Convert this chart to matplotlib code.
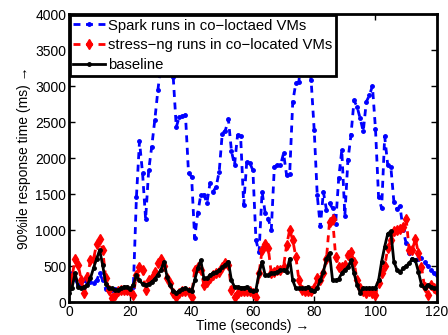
import numpy as np
import matplotlib.pyplot as plt

plt.rcParams['font.family'] = ['Liberation Sans', 'DejaVu Sans']

# time axis, one sample per second
t = np.arange(0, 121)

spark = [350, 400, 320, 230, 280, 300, 280, 280, 270, 300,
         400, 300, 180, 150, 160, 180, 150, 160, 150, 140,
         140, 210, 1460, 2230, 1790, 1150, 1830, 2160, 2530, 2940,
         3300, 3700, 3800, 3400, 3130, 2430, 2575, 2580, 2600, 1790,
         1740, 885, 1235, 1490, 1490, 1375, 1650, 1530, 1600, 1810,
         2340, 2380, 2540, 2100, 1900, 2320, 2300, 1350, 1950, 1930,
         1830, 860, 690, 1530, 1240, 1160, 1000, 1880, 1900, 1900,
         2065, 1760, 1780, 2780, 3040, 3060, 3500, 3700, 3400, 3080,
         2390, 1480, 1050, 1530, 1280, 1370, 1300, 1090, 1720, 2110,
         1200, 1970, 2320, 2800, 2710, 2550, 2370, 2780, 2870, 3000,
         2400, 1460, 1300, 2300, 1900, 1880, 1390, 1290, 1330, 1000,
         815, 680, 600, 590, 600, 605, 550, 500, 440, 400, 380]

stress = [250, 350, 600, 520, 300, 130, 350, 580, 600, 800,
          870, 720, 330, 170, 50, 100, 150, 170, 170, 160,
          150, 100, 375, 490, 450, 170, 300, 330, 420, 540,
          600, 500, 330, 260, 130, 75, 120, 150, 150, 140,
          75, 445, 490, 450, 240, 280, 330, 375, 400, 420,
          490, 540, 520, 170, 75, 120, 150, 150, 150, 150,
          120, 75, 400, 720, 800, 750, 400, 420, 445, 450,
          490, 790, 1000, 860, 630, 310, 170, 150, 150, 150,
          200, 330, 300, 400, 600, 1115, 1160, 630, 490, 480,
          520, 650, 700, 560, 300, 190, 150, 130, 150, 130,
          100, 260, 400, 500, 745, 860, 980, 1000, 1020, 1045,
          1160, 720, 720, 880, 680, 490, 210, 100, 240, 200, 150]

baseline = [120, 200, 400, 210, 200, 210, 240, 330, 470, 600,
            720, 510, 250, 190, 190, 170, 170, 190, 210, 210,
            180, 240, 375, 300, 250, 240, 250, 280, 320, 380,
            450, 560, 350, 240, 150, 130, 150, 180, 190, 170,
            150, 300, 470, 580, 330, 330, 375, 400, 410, 440,
            480, 520, 560, 300, 210, 210, 200, 200, 210, 170,
            150, 170, 400, 560, 375, 370, 400, 400, 420, 440,
            450, 420, 600, 300, 190, 190, 190, 190, 210, 170,
            150, 200, 300, 420, 600, 680, 300, 300, 320, 400,
            450, 480, 580, 400, 240, 130, 190, 190, 190, 190,
            200, 300, 560, 770, 950, 980, 560, 450, 410, 470,
            500, 540, 600, 580, 420, 240, 190, 240, 210, 190, 190]

fig = plt.figure(figsize=(4.48, 3.35), dpi=100)
ax = fig.add_axes([0.154, 0.0985, 0.821, 0.8595])

ax.plot(t, spark, color='b', linestyle=(0, (2.5, 2)), linewidth=2,
        marker='.', markersize=5, label='Spark runs in co\u2212loctaed VMs')
ax.plot(t, stress, color='r', linestyle=(0, (2.5, 2)), linewidth=2,
        marker='d', markersize=5.5, label='stress\u2212ng runs in co\u2212located VMs')
ax.plot(t, baseline, color='k', linestyle='-', linewidth=2,
        marker='.', markersize=5, label='baseline')

ax.set_xlim(0, 120)
ax.set_ylim(0, 4000)
ax.set_xticks(np.arange(0, 121, 20))
ax.set_yticks(np.arange(0, 4001, 500))
ax.tick_params(direction='in', top=True, right=True, labelsize=10,
               length=4, width=1, pad=2)
for s in ax.spines.values():
    s.set_linewidth(2)

ax.set_xlabel('Time (seconds) \u2192', fontsize=10, labelpad=0)
ax.set_ylabel('90%ile response time (ms) \u2192', fontsize=10, labelpad=3)

leg = ax.legend(loc='upper left', fontsize=10.7, frameon=True, fancybox=False,
                borderaxespad=0.05, handlelength=2.15, borderpad=0.25,
                labelspacing=0.4, handletextpad=0.2)
leg.get_frame().set_edgecolor('k')
leg.get_frame().set_linewidth(2)
leg.get_frame().set_alpha(1)

fig.savefig('out.png', dpi=100)
